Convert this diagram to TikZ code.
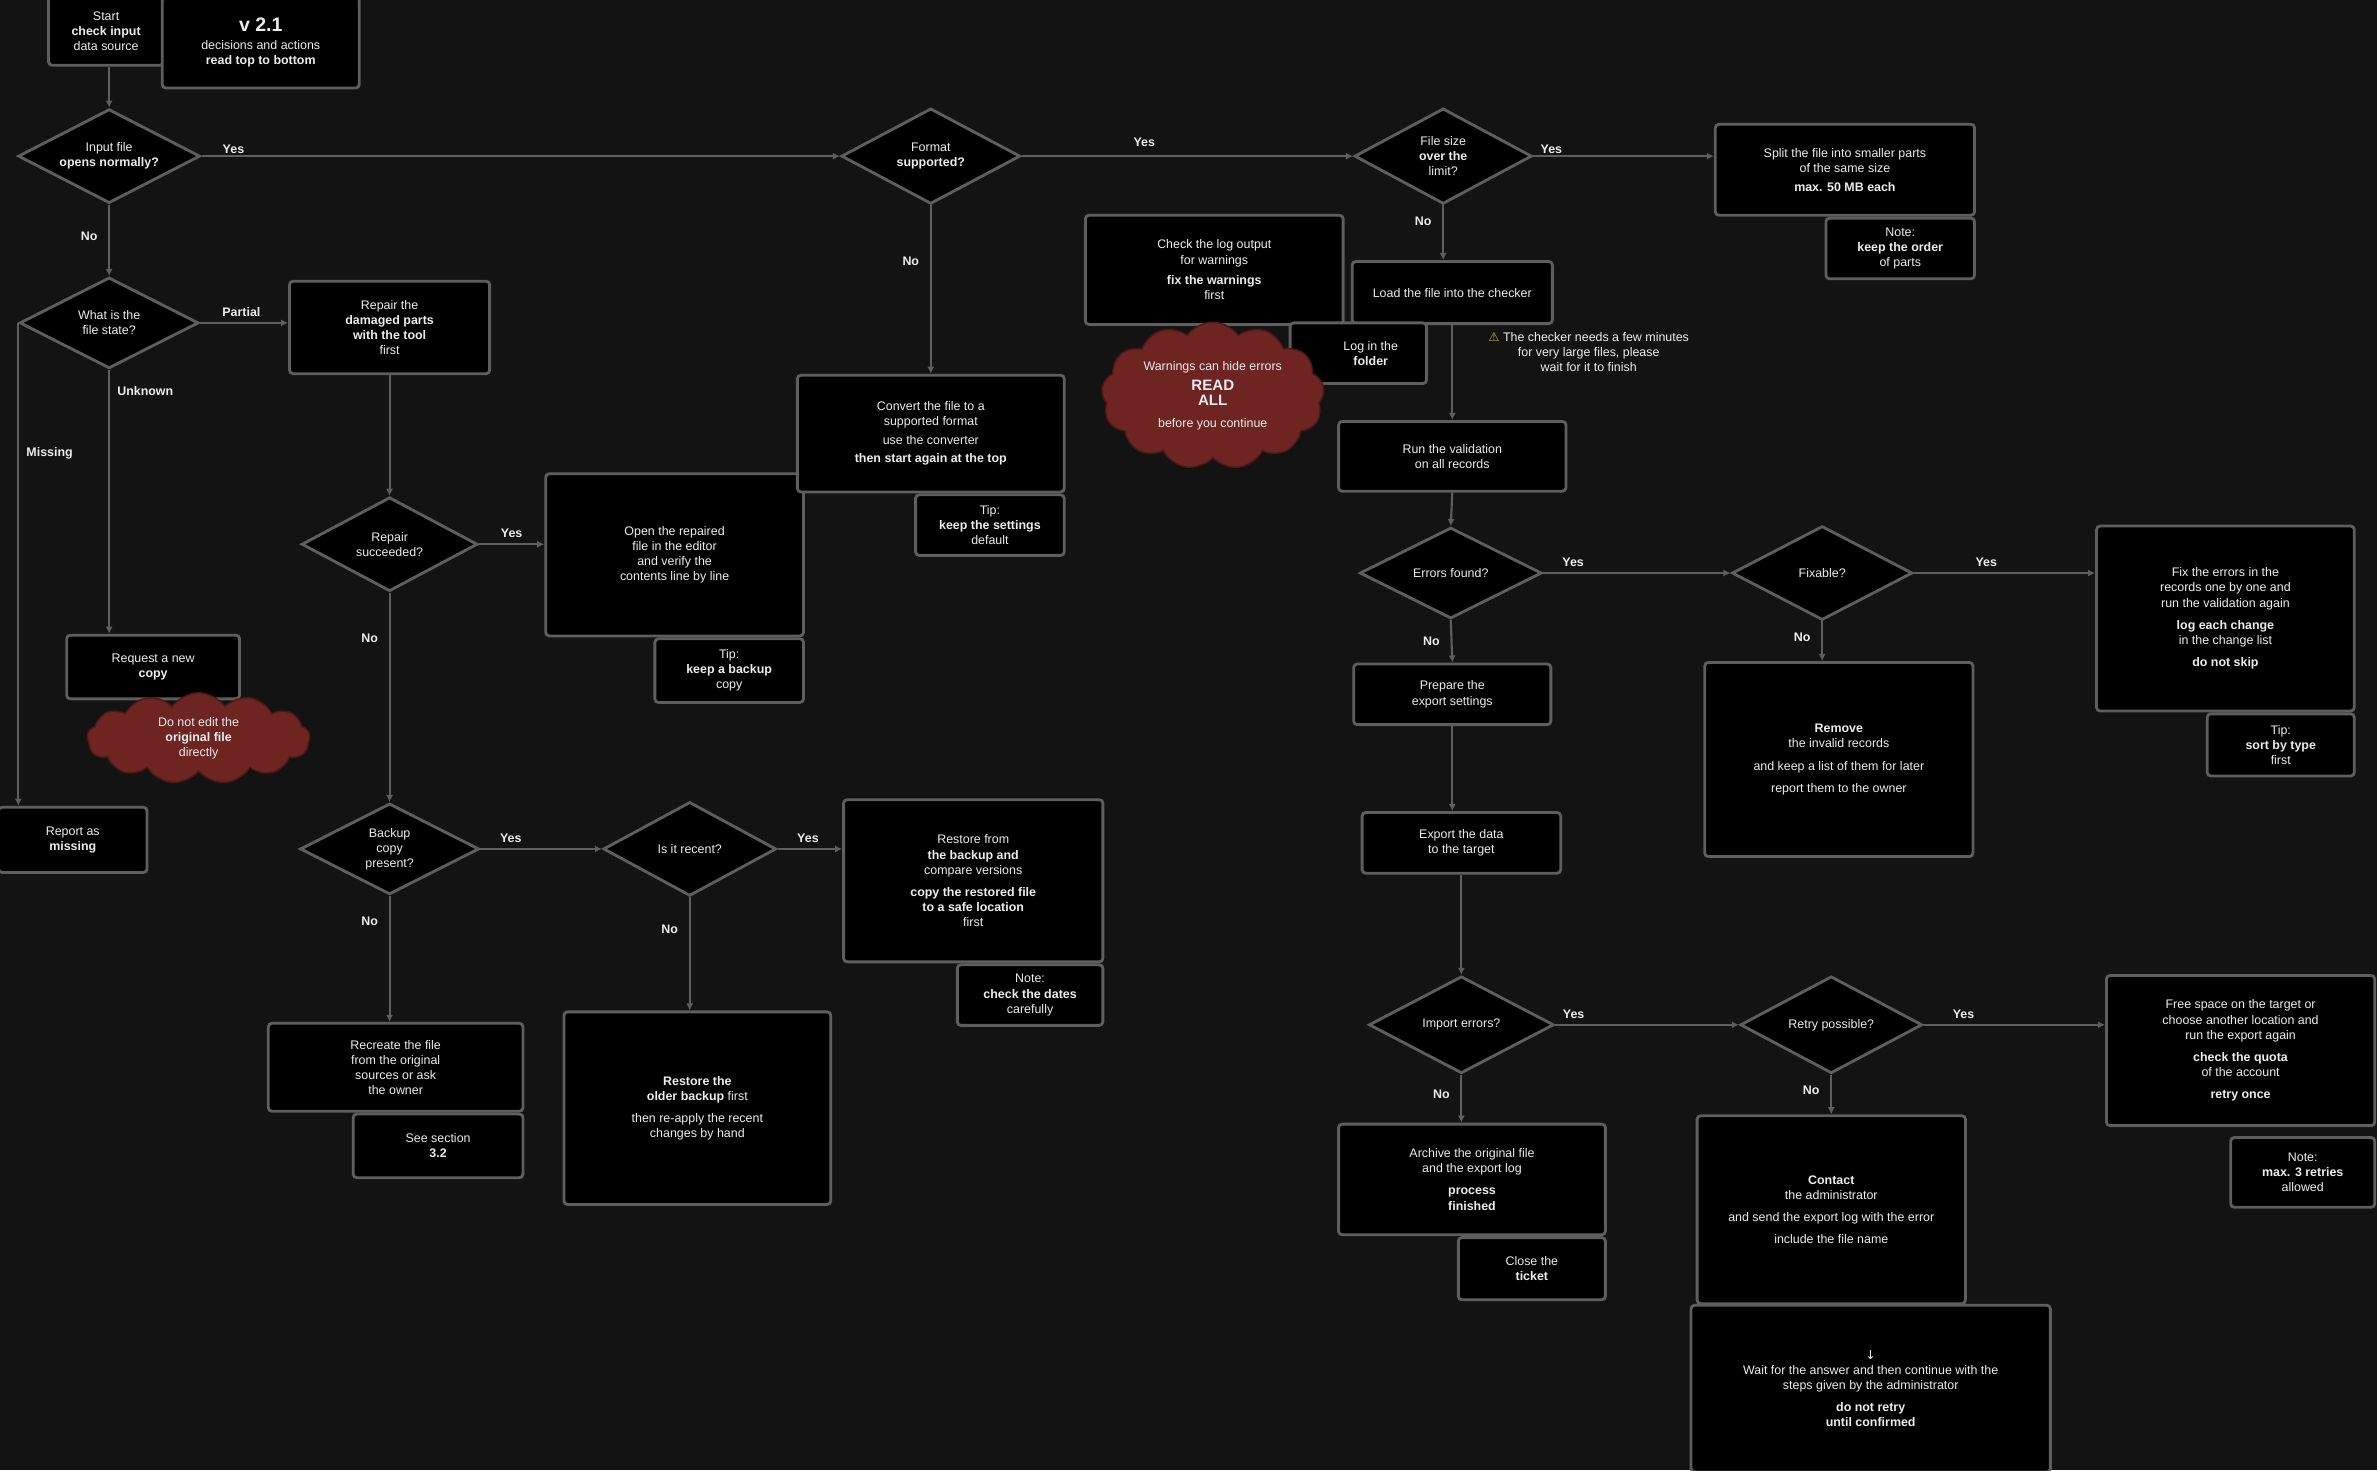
\documentclass[tikz,border=0pt]{standalone}
\usepackage{fontspec}
\setmainfont{Liberation Sans}
\newfontfamily\symfont{DejaVu Sans}
\usetikzlibrary{shapes.geometric,shapes.symbols,arrows.meta,positioning}
\definecolor{bgc}{HTML}{131313}
\definecolor{edgec}{HTML}{5E5E5E}
\definecolor{txtc}{HTML}{EDEDED}
\definecolor{cloudc}{HTML}{6E2420}
\definecolor{warnc}{HTML}{C8B400}
\tikzset{
  sz/.style 2 args={minimum width=#1*0.03cm, minimum height=#2*0.03cm},
  base/.style={text=txtc, font=\fontsize{7}{8.5}\selectfont, align=center, inner sep=1pt},
  box/.style={base, rectangle, draw=edgec, fill=black, line width=1.6pt, rounded corners=2pt},
  note/.style={box, anchor=north east},
  dec/.style={base, diamond, draw=edgec, fill=black, line width=1.6pt, inner sep=0pt, shape aspect=2},
  warn/.style={base, cloud, cloud puffs=13, cloud puff arc=110, cloud ignores aspect, draw=cloudc!70!black, fill=cloudc, line width=0.8pt},
  link/.style={draw=edgec, line width=1.2pt, -{Latex[length=4pt,width=4pt]}},
  lbl/.style={text=txtc, font=\fontsize{7}{8.5}\selectfont\bfseries, inner sep=1pt},
}
\begin{document}
\begin{tikzpicture}[x=0.03cm, y=-0.03cm]
  \fill[bgc] (0,0) rectangle (1568,970);
  \useasboundingbox (0,0) rectangle (1568,970);

  % left column
  \node[box, sz={76}{45}] (start) at (70,20.5) {Start\\ \textbf{check input}\\ data source};
  \node[box, sz={130}{60}] (legend) at (172,28) {{\fontsize{11}{12}\selectfont\bfseries v 2.1}\\[2pt] decisions and actions\\ \textbf{read top to bottom}};
  \node[dec, sz={120}{62}] (d1) at (72,103) {Input file\\ \textbf{opens normally?}};
  \node[dec, sz={118}{60}] (d3) at (72,213) {What is the\\ file state?};
  \node[box, sz={132}{61}] (repair) at (257,216) {Repair the\\ \textbf{damaged parts}\\ \textbf{with the tool}\\ first};
  \node[box, sz={114}{42}] (request) at (101,440) {Request a new\\ \textbf{copy}};
  \node[warn, sz={147}{60}] (nowrite) at (131,487) {Do not edit the\\ \textbf{original file}\\ directly};
  \node[box, sz={98}{43}] (missing) at (48,554) {Report as\\ \textbf{missing}};
  \node[dec, sz={116}{62}] (d4) at (257,359) {Repair\\ succeeded?};
  \node[box, sz={170}{107}] (verify) at (445,366) {Open the repaired\\ file in the editor\\ and verify the\\ contents line by line};
  \node[note, sz={98}{42}] (verifynote) at (verify.south east) {Tip:\\ \textbf{keep a backup}\\ copy};
  \node[dec, sz={118}{60}] (d5) at (257,560) {Backup\\ copy\\ present?};
  \node[dec, sz={114}{62}] (d6) at (455,560) {Is it recent?};
  \node[box, sz={171}{107}] (restore) at (642,581) {Restore from\\ \textbf{the backup and}\\ compare versions\\[4pt] \textbf{copy the restored file}\\ \textbf{to a safe location}\\ first};
  \node[note, sz={96}{40}] (restorenote) at (restore.south east) {Note:\\ \textbf{check the dates}\\ carefully};
  \node[box, sz={176}{127}] (older) at (460,731) {\textbf{Restore the}\\ \textbf{older backup} first\\[4pt] then re-apply the recent\\ changes by hand};
  \node[box, sz={168}{58}] (recreate) at (261,704) {Recreate the file\\ from the original\\ sources or ask\\ the owner};
  \node[note, sz={112}{42}] (recreatenote) at (recreate.south east) {See section\\ \textbf{3.2}};

  % middle column
  \node[dec, sz={118}{63}] (d2) at (614,103) {Format\\ \textbf{supported?}};
  \node[box, sz={176}{77}] (convert) at (614,286) {Convert the file to a\\ supported format\\[2pt] use the converter\\[2pt] \textbf{then start again at the top}};
  \node[note, sz={98}{40}] (convertnote) at (convert.south east) {Tip:\\ \textbf{keep the settings}\\ default};
  \node[dec, sz={117}{63}] (d7) at (952,103) {File size\\ \textbf{over the}\\ limit?};
  \node[box, sz={171}{60}] (split) at (1217,112) {Split the file into smaller parts\\ of the same size\\[2pt] \textbf{max. 50 MB each}};
  \node[note, sz={98}{40}] (splitnote) at (split.south east) {Note:\\ \textbf{keep the order}\\ of parts};
  \node[box, sz={132}{41}] (load) at (958,193) {Load the file into the checker};
  \node[box, sz={170}{72}] (log) at (801,178) {Check the log output\\ for warnings\\[3pt] \textbf{fix the warnings}\\ first};
  \node[box, sz={90}{40}] (logdir) at (896,233) {\qquad Log in the\\ \qquad\textbf{folder}};
  \node[warn, sz={147}{97}] (readall) at (800,261) {Warnings can hide errors\\[3pt] {\fontsize{8.5}{9.5}\selectfont\bfseries READ}\\ {\fontsize{8.5}{9.5}\selectfont\bfseries ALL}\\[4pt] before you continue};
  \node[base] (wait) at (1048,232) {{\symfont\color{warnc}⚠} The checker needs a few minutes\\ for very large files, please\\ wait for it to finish};
  \node[box, sz={150}{46}] (validate) at (958,301) {Run the validation\\ on all records};
  \node[dec, sz={120}{60}] (d8) at (957,378) {Errors found?};
  \node[dec, sz={119}{62}] (d9) at (1202,378) {Fixable?};
  \node[box, sz={170}{122}] (fix) at (1468,408) {Fix the errors in the\\ records one by one and\\ run the validation again\\[4pt] \textbf{log each change}\\ in the change list\\[4pt] \textbf{do not skip}};
  \node[note, sz={97}{41}] (fixnote) at (fix.south east) {Tip:\\ \textbf{sort by type}\\ first};
  \node[box, sz={177}{128}] (remove) at (1213,501) {\textbf{Remove}\\ the invalid records\\[4pt] and keep a list of them for later\\[4pt] report them to the owner};
  \node[box, sz={130}{40}] (prepare) at (958,458) {Prepare the\\ export settings};
  \node[box, sz={131}{40}] (export) at (964,556) {Export the data\\ to the target};
  \node[dec, sz={122}{64}] (d10) at (964,676) {Import errors?};
  \node[dec, sz={120}{64}] (d11) at (1208,676) {Retry possible?};
  \node[box, sz={177}{99}] (retry) at (1478,693) {Free space on the target or\\ choose another location and\\ run the export again\\[4pt] \textbf{check the quota}\\ of the account\\[4pt] \textbf{retry once}};
  \node[note, sz={95}{46}, yshift=-6*0.03cm] (retrynote) at (retry.south east) {Note:\\ \textbf{max. 3 retries}\\ allowed};
  \node[box, sz={177}{124}] (contact) at (1208,798) {\textbf{Contact}\\ the administrator\\[4pt] and send the export log with the error\\[4pt] include the file name};
  \node[box, sz={237}{110}] (answer) at (1234,916) {{\symfont ↓}\\ Wait for the answer and then continue with the\\ steps given by the administrator\\[4pt] \textbf{do not retry}\\ \textbf{until confirmed}};
  \node[box, sz={176}{73}] (archive) at (971,778) {Archive the original file\\ and the export log\\[4pt] \textbf{process}\\ \textbf{finished}};
  \node[note, sz={97}{41}] (archivenote) at (archive.south east) {Close the\\ \textbf{ticket}};

  % connectors
  \draw[link] (d1.north |- start.south) -- (d1.north);
  \draw[link] (d1.east) -- node[lbl, pos=0.05, above] (l1) {Yes} (d2.west);
  \draw[link] (d1.south) -- node[lbl, pos=0.45, left=5pt] (l2) {No} (d3.north);
  \draw[link] (d3.east) -- node[lbl, pos=0.47, above=2pt] (l3) {Partial} (d3.east -| repair.west);
  \draw[link] (d3.south) -- node[lbl, pos=0.08, right=3pt] (l4) {Unknown} (d3.south |- request.north);
  \draw[link] (d3.west) -- node[lbl, pos=0.27, right=3pt] (l5) {Missing} (d3.west |- missing.north);
  \draw[link] (repair.south) -- (d4.north);
  \draw[link] (d4.east) -- node[lbl, pos=0.5, above=2pt] (l6) {Yes} (d4.east -| verify.west);
  \draw[link] (d4.south) -- node[lbl, pos=0.22, left=5pt] (l7) {No} (d5.north);
  \draw[link] (d5.east) -- node[lbl, pos=0.25, above=2pt] (l8) {Yes} (d6.west);
  \draw[link] (d6.east) -- node[lbl, pos=0.47, above=2pt] (l9) {Yes} (d6.east -| restore.west);
  \draw[link] (d6.south) -- node[lbl, pos=0.28, left=5pt] (l10) {No} (d6.south |- older.north);
  \draw[link] (d5.south) -- node[lbl, pos=0.2, left=5pt] (l11) {No} (d5.south |- recreate.north);
  \draw[link] (d2.south) -- node[lbl, pos=0.33, left=5pt] (l12) {No} (convert.north);
  \draw[link] (d2.east) -- node[lbl, pos=0.37, above=4pt] (l13) {Yes} (d7.west);
  \draw[link] (d7.east) -- node[lbl, pos=0.1, above] (l14) {Yes} (d7.east -| split.west);
  \draw[link] (d7.south) -- node[lbl, pos=0.3, left=5pt] (l15) {No} (d7.south |- load.north);
  \draw[link] (load.south) -- (validate.north);
  \draw[link] (validate.south) -- (d8.north);
  \draw[link] (d8.east) -- node[lbl, pos=0.16, above=2pt] (l16) {Yes} (d9.west);
  \draw[link] (d9.east) -- node[lbl, pos=0.4, above=2pt] (l17) {Yes} (d9.east -| fix.west);
  \draw[link] (d9.south) -- node[lbl, pos=0.4, left=5pt] (l18) {No} (d9.south |- remove.north);
  \draw[link] (d8.south) -- node[lbl, pos=0.5, left=5pt] (l19) {No} (prepare.north);
  \draw[link] (prepare.south) -- (prepare.south |- export.north);
  \draw[link] (export.south) -- (d10.north);
  \draw[link] (d10.east) -- node[lbl, pos=0.1, above=2pt] (l20) {Yes} (d11.west);
  \draw[link] (d11.east) -- node[lbl, pos=0.22, above=2pt] (l21) {Yes} (d11.east -| retry.west);
  \draw[link] (d11.south) -- node[lbl, pos=0.4, left=5pt] (l22) {No} (contact.north);
  \draw[link] (d10.south) -- node[lbl, pos=0.4, left=5pt] (l23) {No} (d10.south |- archive.north);
\end{tikzpicture}
\end{document}
